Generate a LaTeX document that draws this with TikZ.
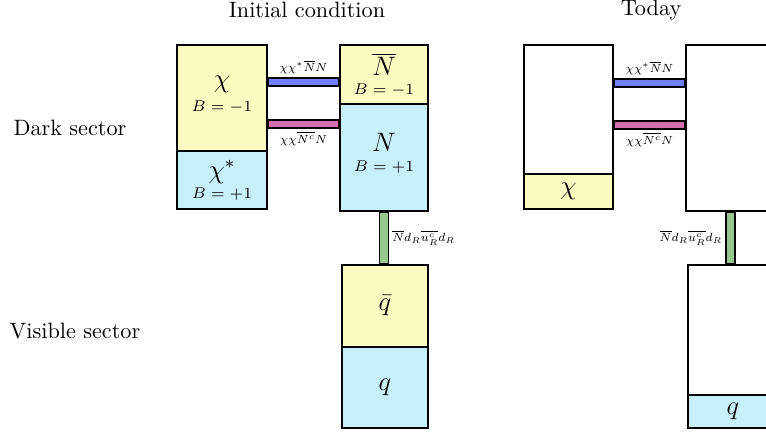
\documentclass[tikz,border=0pt]{standalone}
\usetikzlibrary{fit,calc}
\definecolor{paleyellow}{RGB}{250,251,192}
\definecolor{paleblue}{RGB}{200,240,251}
\definecolor{barblue}{RGB}{112,128,255}
\definecolor{barpink}{RGB}{212,112,176}
\definecolor{bargreen}{RGB}{150,200,140}
\newcommand{\optext}[1]{\scalebox{0.76}{$#1$}}
\begin{document}
\begin{tikzpicture}[x=0.45pt,y=-0.45pt,
  box/.style={draw,line width=0.9pt,inner sep=0pt},
  bar/.style={draw,line width=0.6pt,fill=#1},
  tag/.style={font=\scriptsize,inner sep=1.5pt},
  sym/.style={font=\large,inner sep=0.5pt},
  charge/.style={font=\scriptsize,inner sep=0.5pt}]
\useasboundingbox (0,0) rectangle (766,434);
\clip (0,0) rectangle (766,434);
\node (init) at (307,10) {Initial condition};
\node (today) at (651,10) {Today};
\node (dark) at (70,128) {Dark sector};
\node (vis) at (75,331) {Visible sector};
% initial condition
\node[box,fit={(177,45) (267,151)},fill=paleyellow] (chi) {};
\node[box,fit={(177,151) (267,209)},fill=paleblue] (chis) {};
\node[box,fit={(340,45) (428,104)},fill=paleyellow] (nbar) {};
\node[box,fit={(340,104) (428,211)},fill=paleblue] (nn) {};
\node[box,fit={(342,265) (428,347)},fill=paleyellow] (qbar) {};
\node[box,fit={(342,347) (428,428)},fill=paleblue] (qq) {};
\node[sym] (chit) at ($(chi.center)+(0,-14)$) {$\chi$};
\node[charge] (chib) at ($(chi.center)+(0,9)$) {$B=-1$};
\node[sym] (chist) at ($(chis.center)+(0,-8)$) {$\chi^*$};
\node[charge] (chisb) at ($(chis.center)+(0,14)$) {$B=+1$};
\node[sym] (nbart) at ($(nbar.center)+(0,-10)$) {$\overline{N}$};
\node[charge] (nbarb) at ($(nbar.center)+(0,16)$) {$B=-1$};
\node[sym] (nnt) at ($(nn.center)+(0,-15)$) {$N$};
\node[charge] (nnb) at ($(nn.center)+(0,10)$) {$B=+1$};
\node[sym] (qbart) at (qbar.center) {$\bar q$};
\node[sym] (qqt) at (qq.center) {$q$};
\filldraw[bar=barblue] ($(chi.north east)+(0,34)$) rectangle ($(nbar.north west)+(0,42)$) coordinate (b1);
\filldraw[bar=barpink] ($(chi.north east)+(0,76)$) rectangle ($(nbar.north west)+(0,84)$) coordinate (p1);
\filldraw[bar=bargreen] ($(nn.south)+(-4.5,0)$) rectangle ($(nn.south |- qbar.north)+(4.5,0)$) coordinate (g1);
\node[tag,above] (l1) at ($(chi.north east)!0.5!(nbar.north west)+(0,34)$) {\optext{\chi\chi^*\overline{N}N}};
\node[tag,below] (l2) at ($(chi.north east)!0.5!(nbar.north west)+(0,84)$) {\optext{\chi\chi\overline{N^c}N}};
\node[tag,right] (l3) at ($(nn.south)!0.5!(nn.south |- qbar.north)+(4.5,0)$) {\optext{\overline{N}d_R\overline{u^c_R}d_R}};
% today
\node[box,fit={(524,45) (613,174)},fill=white] (chil) {};
\node[box,fit={(524,174) (613,209)},fill=paleyellow] (chir) {};
\node[box,fit={(686,45) (830,211)},fill=white] (nt) {};
\node[box,fit={(688,265) (830,395)},fill=white] (qtop) {};
\node[box,fit={(688,395) (830,428)},fill=paleblue] (qt) {};
\node[sym] (chirt) at (chir.center) {$\chi$};
\node[sym] (qtt) at (733,411) {$q$};
\filldraw[bar=barblue] ($(chil.north east)+(0,35)$) rectangle ($(nt.north west)+(0,43)$) coordinate (b2);
\filldraw[bar=barpink] ($(chil.north east)+(0,77)$) rectangle ($(nt.north west)+(0,85)$) coordinate (p2);
\filldraw[bar=bargreen] ($(nt.south west)+(41,0)$) rectangle ($(nt.south west |- qtop.north)+(50,0)$) coordinate (g2);
\node[tag,above] (l4) at ($(chil.north east)!0.5!(nt.north west)+(0,35)$) {\optext{\chi\chi^*\overline{N}N}};
\node[tag,below] (l5) at ($(chil.north east)!0.5!(nt.north west)+(0,85)$) {\optext{\chi\chi\overline{N^c}N}};
\node[tag,left] (l6) at ($(nt.south west)!0.5!(nt.south west |- qtop.north)+(41,0)$) {\optext{\overline{N}d_R\overline{u^c_R}d_R}};
\end{tikzpicture}
\end{document}
